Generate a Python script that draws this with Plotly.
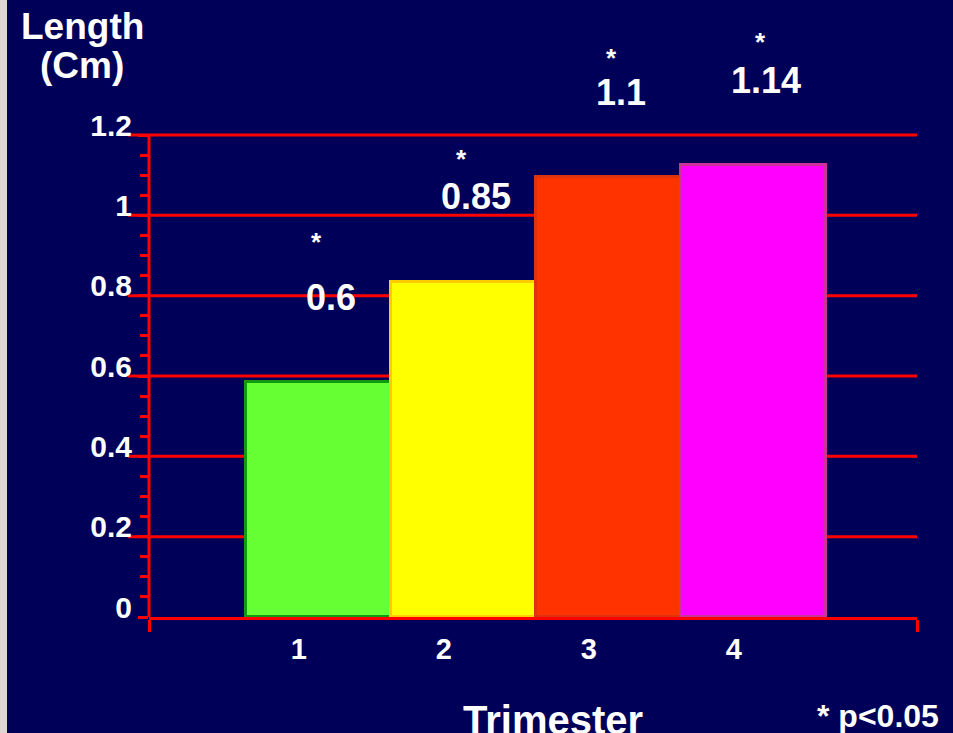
import plotly.graph_objects as go

# ---- data ----
trimesters = [1, 2, 3, 4]
tick_text = ["1", "2", "3", "4"]
lengths = [0.585, 0.835, 1.095, 1.125]          # bar heights
value_labels = ["0.6", "0.85", "1.1", "1.14"]   # printed values
star_labels = ["*", "*", "*", "*"]
bar_colors = ["#66ff33", "#ffff00", "#ff3300", "#ff00ff"]
bar_edges = ["#119911", "#ffcc00", "#dd3311", "#cc3399"]
y_ticks = [0, 0.2, 0.4, 0.6, 0.8, 1.0, 1.2]
y_tick_text = ["0", "0.2", "0.4", "0.6", "0.8", "1", "1.2"]

# ---- style ----
BG = "#000058"
RED = "#ff0000"
FONT = "Arial, Liberation Sans, sans-serif"
x_range = [-0.172, 5.125]
y_range = [0, 1.205]
star_xshift = [-2, -2, 3, 7]
star_yshift = [140, 123, 119, 123]

W, H = 953, 733
ML, MR, MT, MB = 149, 36, 133, 116
PW = W - ML - MR
PH = H - MT - MB
MAJOR_LEN = 21

fig = go.Figure()

# red gridlines, extending left through the long major ticks
for yt in y_ticks[1:]:
    fig.add_shape(type="line", xref="paper", yref="y", x0=-MAJOR_LEN / PW, x1=1,
                  y0=yt, y1=yt, line=dict(color=RED, width=3), layer="below")

fig.add_trace(go.Bar(
    x=trimesters, y=lengths, width=1.0,
    marker=dict(color=bar_colors, line=dict(color=bar_edges, width=3)),
    hoverinfo="skip",
))

for i, (xv, yv, lab, st) in enumerate(zip(trimesters, lengths, value_labels, star_labels)):
    fig.add_annotation(x=xv, y=yv, xref="x", yref="y", text=f"<b>{lab}</b>",
                       showarrow=False, xshift=12, yshift=85,
                       font=dict(family=FONT, size=36, color="white"))
    fig.add_annotation(x=xv, y=yv, xref="x", yref="y", text=f"<b>{st}</b>",
                       showarrow=False, xshift=star_xshift[i], yshift=star_yshift[i],
                       font=dict(family=FONT, size=26, color="white"))

fig.add_annotation(xref="paper", yref="paper", x=-0.087, y=1 + (MT - 27) / PH,
                   text="<b>Length</b>", showarrow=False,
                   font=dict(family=FONT, size=37, color="white"),
                   xanchor="center", yanchor="middle")
fig.add_annotation(xref="paper", yref="paper", x=-0.087, y=1 + (MT - 66) / PH,
                   text="<b>(Cm)</b>", showarrow=False,
                   font=dict(family=FONT, size=37, color="white"),
                   xanchor="center", yanchor="middle")
fig.add_annotation(xref="paper", yref="paper", x=0.526, y=-103 / PH,
                   text="<b>Trimester</b>", showarrow=False,
                   font=dict(family=FONT, size=40, color="white"),
                   xanchor="center", yanchor="middle")
fig.add_annotation(xref="paper", yref="paper", x=0.949, y=-99 / PH,
                   text="<b>* p<0.05</b>", showarrow=False,
                   font=dict(family=FONT, size=32, color="white"),
                   xanchor="center", yanchor="middle")

# scanned-page strip at the left edge
fig.add_shape(type="rect", xref="paper", yref="paper",
              x0=-ML / PW, x1=(7 - ML) / PW, y0=-MB / PH, y1=1 + MT / PH,
              fillcolor="#dcd8d0", line=dict(width=0), layer="above")

fig.update_layout(
    width=W, height=H,
    margin=dict(l=ML, r=MR, t=MT, b=MB),
    paper_bgcolor=BG, plot_bgcolor=BG,
    showlegend=False,
    bargap=0,
)
fig.update_xaxes(
    range=x_range, tickmode="array", tickvals=trimesters, ticktext=[f"<b>{t}</b>" for t in tick_text],
    ticks="", ticklabelshift=-20, ticklabelstandoff=4,
    tickfont=dict(family=FONT, size=29, color="white"),
    showgrid=False, zeroline=False,
    showline=True, linecolor=RED, linewidth=3,
    minor=dict(tickmode="array", tickvals=x_range, ticks="outside", ticklen=12,
               tickwidth=3, tickcolor=RED, showgrid=False),
)
fig.update_yaxes(
    range=y_range, tickmode="array", tickvals=y_ticks,
    ticktext=[f"<b>{t}</b>" for t in y_tick_text],
    ticks="outside", ticklen=10, tickwidth=3, tickcolor=RED,
    ticklabelshift=-10,
    tickfont=dict(family=FONT, size=30, color="white"),
    showgrid=False, zeroline=False, showline=False,
    minor=dict(dtick=0.05, ticks="outside", ticklen=8, tickwidth=3, tickcolor=RED, showgrid=False),
)
# y axis line only up to the 1.2 gridline
fig.add_shape(type="line", xref="paper", yref="y", x0=0, x1=0, y0=y_ticks[0], y1=y_ticks[-1],
              line=dict(color=RED, width=3), layer="above")

fig.write_html("out.html", config={"displayModeBar": False},
               post_script="document.body.style.margin='0';document.body.style.background='" + BG + "';")
